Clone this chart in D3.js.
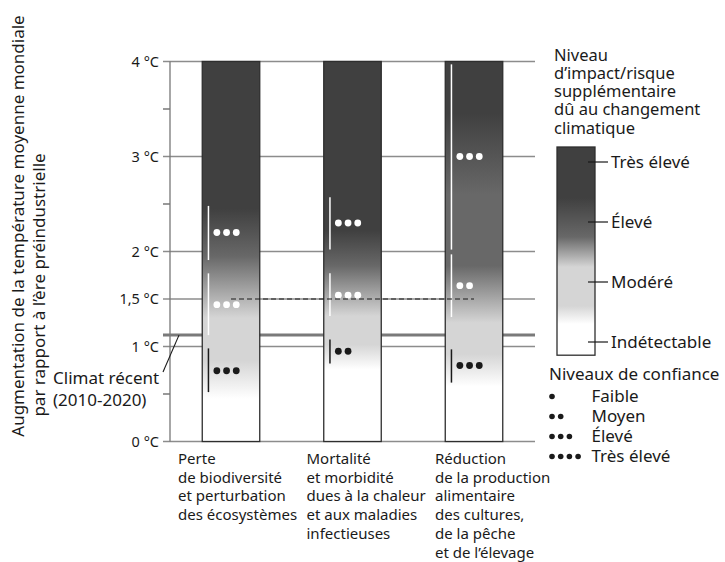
<!DOCTYPE html>
<html><head><meta charset="utf-8">
<script src="https://cdn.jsdelivr.net/npm/d3@7"></script>
<style>
body{margin:0;background:#fff}
text{font-family:"Noto Sans",sans-serif;fill:#1a1a1a}
</style>
</head><body>
<svg id="chart" width="725" height="562"></svg>
<script>
// ---------- data ----------
const categories = ["biodiversite", "sante", "alimentation"];
const categoryLabels = [
  ["Perte", "de biodiversité", "et perturbation", "des écosystèmes"],
  ["Mortalité", "et morbidité", "dues à la chaleur", "et aux maladies", "infectieuses"],
  ["Réduction", "de la production", "alimentaire", "des cultures,", "de la pêche", "et de l’élevage"]
];
const yTicks = [0, 1, 1.5, 2, 3, 4];
const yTickLabels = ["0 °C", "1 °C", "1,5 °C", "2 °C", "3 °C", "4 °C"];
const yMinorTicks = [0.5, 2.5, 3.5];
const yTitle = ["Augmentation de la température moyenne mondiale", "par rapport à l’ère préindustrielle"];

const riskLevels = ["Indétectable", "Modéré", "Élevé", "Très élevé"];
const riskColors = ["#ffffff", "#d5d5d5", "#686868", "#404040"];
// gradient stops: [temperature °C, risk level]
const gradientBio = [[0.45, 0], [0.85, 1], [1.3, 1], [1.95, 2], [2.45, 3]];
const gradientHealth = [[0.76, 0], [1.02, 1], [1.32, 1], [1.85, 2], [2.22, 3]];
const gradientFood = [[0.58, 0], [0.92, 1], [1.25, 1], [1.85, 2], [2.6, 2], [3.45, 3]];
const legendGradient = [[0.3, 0], [0.6, 1], [1.25, 1], [1.75, 2], [2.4, 3]];

// confidence: [range low, range high, dot position, number of dots, tone]
const confidenceBio = [[1.91, 2.48, 2.2, 3, "white"], [1.12, 1.77, 1.44, 3, "white"], [0.52, 0.98, 0.745, 3, "black"]];
const confidenceHealth = [[2.02, 2.57, 2.3, 3, "white"], [1.32, 1.77, 1.54, 3, "white"], [0.82, 1.075, 0.95, 2, "black"]];
const confidenceFood = [[2.02, 3.97, 3.0, 3, "white"], [1.31, 1.97, 1.64, 2, "white"], [0.62, 0.97, 0.8, 3, "black"]];

const recentClimate = 1.12;
const recentLabel = ["Climat récent", "(2010-2020)"];
const referenceLine = 1.5;
const legendTitle = ["Niveau", "d’impact/risque", "supplémentaire", "dû au changement", "climatique"];
const confidenceTitle = "Niveaux de confiance";
const confidenceLevels = ["Faible", "Moyen", "Élevé", "Très élevé"];

const gradients = [gradientBio, gradientHealth, gradientFood];
const confidences = [confidenceBio, confidenceHealth, confidenceFood];

// ---------- scales ----------
const svg = d3.select("#chart");
const y = d3.scaleLinear().domain([0, 4]).range([441.5, 61.5]);
const x = d3.scalePoint().domain(categories).range([231, 474]);
const barW = 57.5;
const color = d3.scaleLinear().domain([0, 1, 2, 3]).range(riskColors);
const axisX = 170, gridRight = 535, tickLeft = 163;

const defs = svg.append("defs");
gradients.forEach((g, i) => {
  const lg = defs.append("linearGradient").attr("id", "g" + i)
    .attr("gradientUnits", "userSpaceOnUse")
    .attr("x1", 0).attr("x2", 0).attr("y1", y(0)).attr("y2", y(4));
  g.forEach(s => lg.append("stop").attr("offset", s[0] / 4).attr("stop-color", color(s[1])));
});

// ---------- grid and axis ----------
const grid = svg.append("g");
grid.selectAll("line.grid").data(yTicks.filter(t => t > 0)).join("line")
  .attr("x1", tickLeft).attr("x2", gridRight)
  .attr("y1", d => y(d)).attr("y2", d => y(d))
  .attr("stroke", "#8c8c8c").attr("stroke-width", 1.4);
grid.append("line").attr("x1", tickLeft).attr("x2", gridRight)
  .attr("y1", y(0)).attr("y2", y(0)).attr("stroke", "#8c8c8c").attr("stroke-width", 1.4);
grid.selectAll("line.minor").data(yMinorTicks).join("line")
  .attr("x1", tickLeft).attr("x2", axisX)
  .attr("y1", d => y(d)).attr("y2", d => y(d))
  .attr("stroke", "#555").attr("stroke-width", 1.2);
grid.append("line").attr("x1", axisX).attr("x2", axisX)
  .attr("y1", y(4)).attr("y2", y(0)).attr("stroke", "#777").attr("stroke-width", 1.3);
// recent climate
grid.append("line").attr("x1", tickLeft).attr("x2", gridRight)
  .attr("y1", y(recentClimate)).attr("y2", y(recentClimate))
  .attr("stroke", "#7a7a7a").attr("stroke-width", 3);

svg.append("g").selectAll("text").data(yTicks).join("text")
  .attr("x", 159).attr("y", d => y(d)).attr("dy", "0.36em")
  .attr("text-anchor", "end").style("font-size", "14.5px")
  .text((d, i) => yTickLabels[i]);

// y title
svg.append("text").attr("transform", "translate(24,226) rotate(-90)")
  .attr("text-anchor", "middle").style("font-size", "17px").text(yTitle[0]);
svg.append("text").attr("transform", "translate(45,285) rotate(-90)")
  .attr("text-anchor", "middle").style("font-size", "17px").text(yTitle[1]);

// ---------- bars ----------
const bars = svg.append("g");
categories.forEach((c, i) => {
  bars.append("rect").attr("x", x(c) - barW / 2).attr("width", barW)
    .attr("y", y(4)).attr("height", y(0) - y(4))
    .attr("fill", "url(#g" + i + ")").attr("stroke", "#2e2e2e").attr("stroke-width", 1.3);
  const conf = bars.append("g");
  confidences[i].forEach(cf => {
    const col = cf[4] === "white" ? "#ffffff" : "#1a1a1a";
    const lx = x(c) - barW / 2 + 6.2;
    conf.append("line").attr("x1", lx).attr("x2", lx)
      .attr("y1", y(cf[1])).attr("y2", y(cf[0]))
      .attr("stroke", col).attr("stroke-width", 1.5);
    d3.range(cf[3]).forEach(k => {
      conf.append("circle").attr("cx", lx + 8.4 + k * 9.7).attr("cy", y(cf[2]))
        .attr("r", 3.4).attr("fill", col);
    });
  });
});

// dashed 1.5 line
svg.append("line").attr("x1", x(categories[0])).attr("x2", x(categories[2]))
  .attr("y1", y(referenceLine)).attr("y2", y(referenceLine))
  .attr("stroke", "#1a1a1a").attr("stroke-width", 1.2).attr("stroke-dasharray", "5,3");

// recent climate label
svg.append("line").attr("x1", 179).attr("y1", y(recentClimate))
  .attr("x2", 163).attr("y2", 372).attr("stroke", "#1a1a1a").attr("stroke-width", 1.1);
svg.append("g").selectAll("text").data(recentLabel).join("text")
  .attr("x", 53).attr("y", (d, i) => 384 + i * 21.5)
  .style("font-size", "17px").text(d => d);

// category labels
categories.forEach((c, i) => {
  svg.append("g").selectAll("text").data(categoryLabels[i]).join("text")
    .attr("x", 178 + i * 128.5).attr("y", (d, k) => 464 + k * 18.7)
    .style("font-size", "15px").text(d => d);
});

// ---------- risk legend ----------
const ly = d3.scaleLinear().domain([0, 3]).range([342, 162]);
const lg = defs.append("linearGradient").attr("id", "lg")
  .attr("gradientUnits", "userSpaceOnUse")
  .attr("x1", 0).attr("x2", 0).attr("y1", ly(0)).attr("y2", ly(3));
legendGradient.forEach(s => lg.append("stop").attr("offset", s[0] / 3).attr("stop-color", color(s[1])));

svg.append("g").selectAll("text").data(legendTitle).join("text")
  .attr("x", 554).attr("y", (d, i) => 60.5 + i * 18.3)
  .style("font-size", "16.5px").text(d => d);
svg.append("rect").attr("x", 557).attr("width", 38)
  .attr("y", ly(3.25)).attr("height", ly(-0.22) - ly(3.25))
  .attr("fill", "url(#lg)").attr("stroke", "#2e2e2e").attr("stroke-width", 1.3);
const lt = svg.append("g").selectAll("g").data(riskLevels).join("g");
lt.append("line").attr("x1", 588).attr("x2", 608)
  .attr("y1", (d, i) => ly(i)).attr("y2", (d, i) => ly(i))
  .attr("stroke", "#1a1a1a").attr("stroke-width", 1.2);
lt.append("text").attr("x", 611).attr("y", (d, i) => ly(i)).attr("dy", "0.36em")
  .style("font-size", "17px").text(d => d);

// ---------- confidence legend ----------
svg.append("text").attr("x", 549).attr("y", 380).style("font-size", "17px").text(confidenceTitle);
confidenceLevels.forEach((lvl, i) => {
  const cy = 396.5 + i * 20;
  d3.range(i + 1).forEach(k => {
    svg.append("circle").attr("cx", 552 + k * 8.7).attr("cy", cy).attr("r", 2.8).attr("fill", "#1a1a1a");
  });
  svg.append("text").attr("x", 591.5).attr("y", cy + 5).style("font-size", "17px").text(lvl);
});
</script>
</body></html>
